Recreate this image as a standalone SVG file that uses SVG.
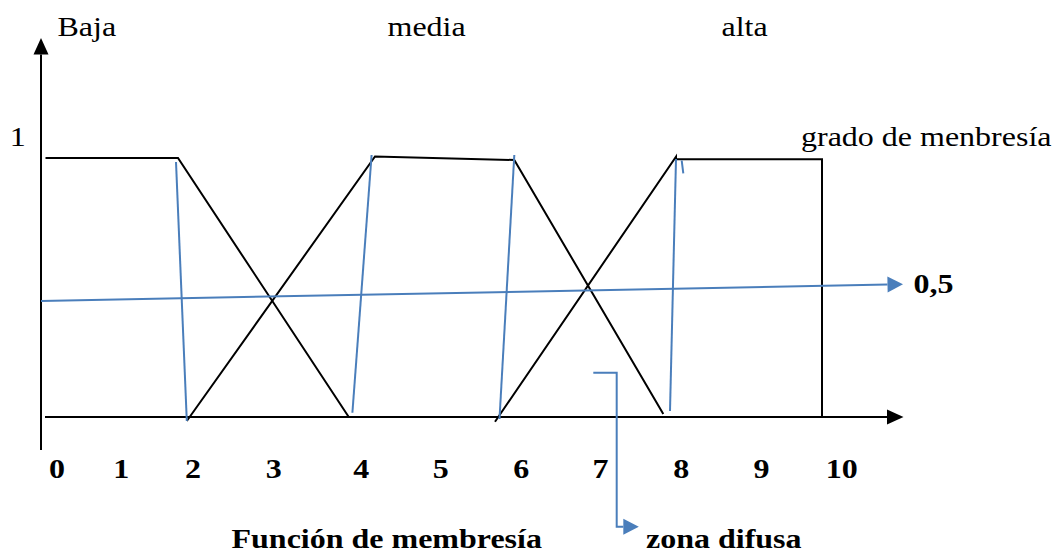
<svg xmlns="http://www.w3.org/2000/svg" width="1060" height="557" viewBox="0 0 1060 557">
<style>
.k{fill:none;stroke:#000;stroke-width:2;stroke-linejoin:miter}
.b{fill:none;stroke:#4a7ebb;stroke-width:2}
.t{font-family:"Liberation Serif","Times New Roman",serif;font-size:32px;fill:#000}
.tb{font-family:"Liberation Serif","Times New Roman",serif;font-size:32px;font-weight:bold;fill:#000}
.n{text-anchor:middle}
</style>
<defs>
<marker id="ak" markerUnits="userSpaceOnUse" markerWidth="17" markerHeight="15" refX="0" refY="7.5" orient="auto" overflow="visible">
<path d="M0,0 L16.5,7.5 L0,15 Z" fill="#000"/>
</marker>
<marker id="ab" markerUnits="userSpaceOnUse" markerWidth="16" markerHeight="16" refX="0" refY="8" orient="auto" overflow="visible">
<path d="M0,0 L15.5,8 L0,16 Z" fill="#4a7ebb"/>
</marker>
</defs>

<g id="axes">
<line class="k" x1="41" y1="450" x2="41" y2="54.5" marker-end="url(#ak)"/>
<line class="k" x1="45" y1="417" x2="887" y2="417" marker-end="url(#ak)"/>
</g>

<g id="baja">
<polyline class="k" points="45.5,158 178,158 348.6,416.7"/>
</g>
<g id="media">
<polyline class="k" points="186.8,421 375,156.5 514.3,160 663.3,414"/>
</g>
<g id="alta">
<polyline class="k" points="495,421.7 676,156.7 676,159.3 822,159.3 822,417"/>
</g>

<g id="connectors">
<line class="b" x1="176" y1="162" x2="186.8" y2="421"/>
<line class="b" x1="371.6" y1="155" x2="352.4" y2="412.7"/>
<line class="b" x1="514.3" y1="155" x2="499.5" y2="419"/>
<line class="b" x1="676" y1="159" x2="670" y2="411"/>
<line class="b" x1="681.7" y1="160.5" x2="683.3" y2="173.3"/>
<line class="b" x1="41" y1="301" x2="887.5" y2="284.6" marker-end="url(#ab)"/>
<polyline class="b" points="593.3,372.7 616.7,372.7 616.7,526.7 623.3,526.7" marker-end="url(#ab)"/>
</g>

<g id="labels">
<text class="t" transform="matrix(1 0 0 0.87 57.5 36)">Baja</text>
<text class="t" transform="matrix(1 0 0 0.87 387.5 36)">media</text>
<text class="t" transform="matrix(1 0 0 0.87 721.5 36)">alta</text>
<text class="t n" transform="matrix(1 0 0 0.87 17.7 146)">1</text>
<text class="t" transform="matrix(1 0 0 0.87 801 146)">grado de menbresía</text>
<text class="tb" transform="matrix(1 0 0 0.87 913.5 293.3)">0,5</text>
<text class="tb n" transform="matrix(1 0 0 0.87 57 478.3)">0</text>
<text class="tb n" transform="matrix(1 0 0 0.87 121.3 478.3)">1</text>
<text class="tb n" transform="matrix(1 0 0 0.87 193 478.3)">2</text>
<text class="tb n" transform="matrix(1 0 0 0.87 273.7 478.3)">3</text>
<text class="tb n" transform="matrix(1 0 0 0.87 361.2 478.3)">4</text>
<text class="tb n" transform="matrix(1 0 0 0.87 440.8 478.3)">5</text>
<text class="tb n" transform="matrix(1 0 0 0.87 521.2 478.3)">6</text>
<text class="tb n" transform="matrix(1 0 0 0.87 600.5 478.3)">7</text>
<text class="tb n" transform="matrix(1 0 0 0.87 681.3 478.3)">8</text>
<text class="tb n" transform="matrix(1 0 0 0.87 761.5 478.3)">9</text>
<text class="tb n" transform="matrix(1 0 0 0.87 841.7 478.3)">10</text>
<text class="tb" transform="matrix(1 0 0 0.87 231.5 548)">Función de membresía</text>
<text class="tb" transform="matrix(1 0 0 0.87 646 548)">zona difusa</text>
</g>
</svg>
